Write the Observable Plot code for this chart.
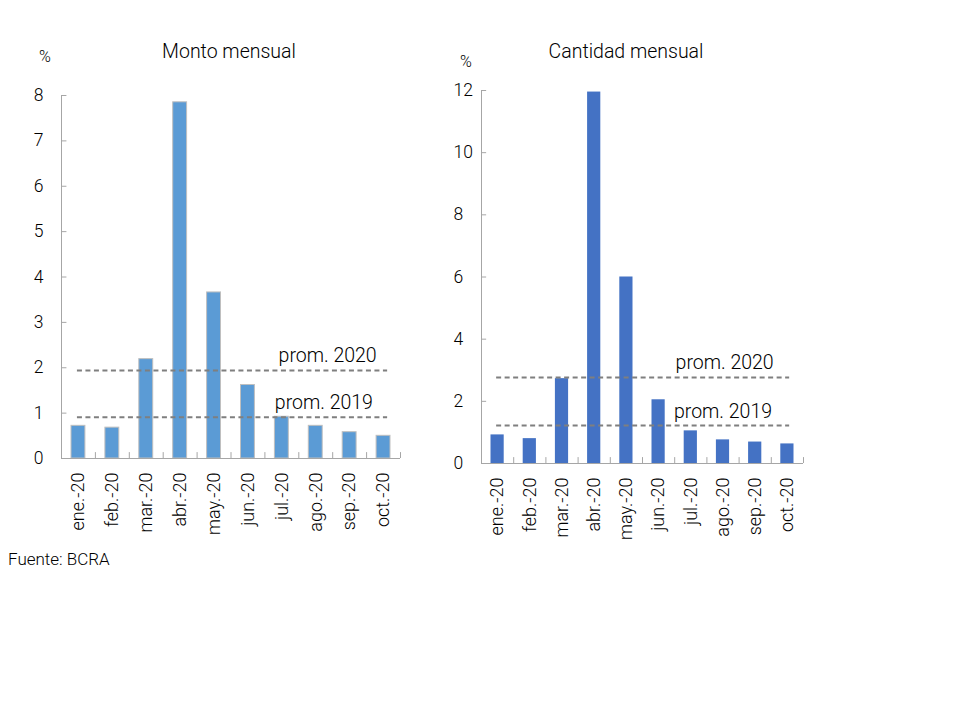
<!DOCTYPE html>
<html>
<head>
<meta charset="utf-8">
<script src="https://cdn.jsdelivr.net/npm/d3@7"></script>
<script src="https://cdn.jsdelivr.net/npm/@observablehq/plot@0.6"></script>
<style>
  body { margin: 0; background: #fff; font-family: Roboto, sans-serif; font-weight: 300; }
  #wrap { position: relative; width: 960px; height: 720px; }
  .abs { position: absolute; white-space: nowrap; color: #000; line-height: 1.2; font-weight: 300; }
  .plot { position: absolute; top: 0; }
  .plot text { font-weight: 300; }
</style>
</head>
<body>
<div id="wrap">
  <div class="abs" style="left:0;width:458px;text-align:center;top:40px;font-size:19.5px;">Monto mensual</div>
  <div class="abs" style="left:39px;top:47px;font-size:16px;">%</div>
  <div class="abs" style="left:0;width:1252px;text-align:center;top:40px;font-size:19.5px;">Cantidad mensual</div>
  <div class="abs" style="left:460px;top:52px;font-size:16px;">%</div>
  <div class="abs" style="left:8px;top:549px;font-size:17px;">Fuente: BCRA</div>
  <div id="left" class="plot" style="left:0"></div>
  <div id="right" class="plot" style="left:420px"></div>
</div>
<script>
const months = ["ene.-20","feb.-20","mar.-20","abr.-20","may.-20","jun.-20","jul.-20","ago.-20","sep.-20","oct.-20"];
const monto = [0.72, 0.68, 2.19, 7.85, 3.66, 1.62, 0.92, 0.72, 0.58, 0.50];
const cantidad = [0.92, 0.80, 2.73, 11.95, 6.00, 2.05, 1.05, 0.76, 0.69, 0.63];
const promLabels = ["prom. 2020", "prom. 2019"];
const promMonto = [1.94, 0.91];
const promCantidad = [2.77, 1.22];
const ticksMonto = [0, 1, 2, 3, 4, 5, 6, 7, 8];
const ticksCantidad = [0, 2, 4, 6, 8, 10, 12];

function chart({values, prom, yTicks, yMax, fill, stroke, width, plotWidth, marginTop, marginBottom,
                labelX, lineX2, tickLabelDx, tickLabelAnchor, tickLen}) {
  const rows = values.map((v, i) => ({i, v, m: months[i]}));
  const promRows = prom.map((v, k) => ({v, label: promLabels[k], k}));
  const axisColor = "#a6a6a6";
  return Plot.plot({
    width, height: 560,
    marginLeft: 61, marginRight: width - 61 - plotWidth,
    marginTop, marginBottom,
    x: {domain: [0, 10], axis: null},
    y: {domain: [0, yMax], axis: null},
    style: {fontFamily: "Roboto, sans-serif", background: "transparent", overflow: "visible"},
    marks: [
      Plot.rectY(rows, {x1: d => d.i + 0.295, x2: d => d.i + 0.705, y1: 0, y2: "v",
        fill, stroke: stroke || "none", strokeWidth: 1}),
      Plot.ruleY(promRows, {y: "v", x1: 0.47, x2: lineX2, stroke: "#7f7f7f",
        strokeWidth: 2, strokeDasharray: "5,3.5"}),
      Plot.text(promRows, {y: "v", x: d => labelX[d.k], text: "label", fontSize: 19.5,
        fill: "#000", textAnchor: "middle", lineAnchor: "bottom", dy: -8}),
      Plot.ruleX([0], {y1: 0, y2: yMax, stroke: axisColor}),
      Plot.ruleY([0], {x1: 0, x2: 10, stroke: axisColor}),
      Plot.ruleY(yTicks, {y: d => d, x1: 0, x2: 0.16, stroke: axisColor}),
      Plot.ruleX(d3.range(1, 11), {x: d => d, y1: 0, y2: tickLen, stroke: axisColor}),
      Plot.text(yTicks, {y: d => d, x: 0, text: d => String(d), fontSize: 17.5,
        fill: "#000", textAnchor: tickLabelAnchor, dx: tickLabelDx, lineAnchor: "middle"}),
      Plot.text(rows, {x: d => d.i + 0.5, y: 0, text: "m", fontSize: 18, fill: "#000",
        rotate: -90, textAnchor: "end", lineAnchor: "middle", dy: 14})
    ]
  });
}

document.getElementById("left").append(chart({
  values: monto, prom: promMonto, yTicks: ticksMonto, yMax: 8,
  fill: "#5b9bd5", stroke: "#bfbfbf", width: 420, plotWidth: 339, marginTop: 95, marginBottom: 102,
  labelX: [7.85, 7.74], lineX2: 9.62, tickLabelDx: -18, tickLabelAnchor: "end", tickLen: 0.13
}));
document.getElementById("right").append(chart({
  values: cantidad, prom: promCantidad, yTicks: ticksCantidad, yMax: 12,
  fill: "#4472c4", stroke: null, width: 403, plotWidth: 322, marginTop: 90, marginBottom: 97,
  labelX: [7.55, 7.5], lineX2: 9.57, tickLabelDx: -28, tickLabelAnchor: "start", tickLen: 0.19
}));
</script>
</body>
</html>
